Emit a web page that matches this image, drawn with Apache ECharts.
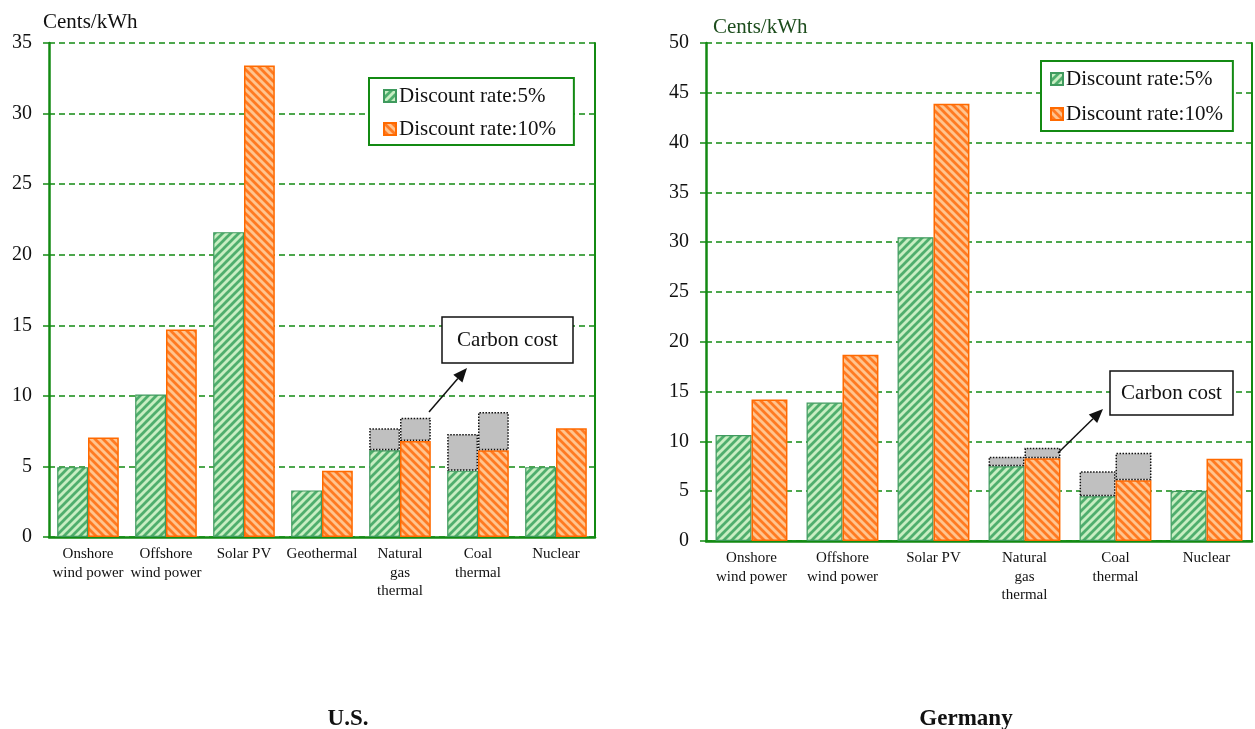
<!DOCTYPE html>
<html><head><meta charset="utf-8">
<script src="https://cdn.jsdelivr.net/npm/echarts@6/dist/echarts.min.js"></script>
<style>html,body{margin:0;padding:0;background:#fff}#c{width:1255px;height:729px}</style>
</head><body><div id="c"></div>
<script>
// Levelized generation cost, cents/kWh, at 5% and 10% discount rates
const usCategories = ['Onshore\nwind power', 'Offshore\nwind power', 'Solar PV', 'Geothermal', 'Natural\ngas\nthermal', 'Coal\nthermal', 'Nuclear'];
const usRate5 = [4.95, 10.1, 21.6, 3.3, 6.15, 4.7, 4.95];
const usRate5Carbon = [null, null, null, null, 1.55, 2.6, null];
const usRate10 = [7.05, 14.7, 33.4, 4.7, 6.8, 6.15, 7.7];
const usRate10Carbon = [null, null, null, null, 1.65, 2.7, null];

const deCategories = ['Onshore\nwind power', 'Offshore\nwind power', 'Solar PV', 'Natural\ngas\nthermal', 'Coal\nthermal', 'Nuclear'];
const deRate5 = [10.65, 13.9, 30.5, 7.5, 4.5, 5.05];
const deRate5Carbon = [null, null, null, 0.97, 2.5, null];
const deRate10 = [14.2, 18.7, 43.9, 8.3, 6.1, 8.25];
const deRate10Carbon = [null, null, null, 1.07, 2.75, null];

const usTicks = { min: 0, max: 35, interval: 5 };
const deTicks = { min: 0, max: 50, interval: 5 };

const NAME5 = 'Discount rate:5%';
const NAME10 = 'Discount rate:10%';
const SERIF = '"Liberation Serif", "DejaVu Serif", serif';
const GREEN_AXIS = '#138a13';

// diagonal hatch tiles used as bar fills
function hatch(bg, fg, rising) {
  const s = 8, c = document.createElement('canvas');
  c.width = c.height = s;
  const g = c.getContext('2d');
  g.fillStyle = bg; g.fillRect(0, 0, s, s);
  g.strokeStyle = fg; g.lineWidth = 2.8; g.lineCap = 'square';
  g.beginPath();
  for (let k = -1; k <= 1; k++) {
    if (rising) { g.moveTo(k * s, s); g.lineTo(k * s + s, 0); }
    else { g.moveTo(k * s, 0); g.lineTo(k * s + s, s); }
  }
  g.stroke();
  return c;
}
const greenFill = { image: hatch('#c8eec2', '#4fae6d', true), repeat: 'repeat' };
const orangeFill = { image: hatch('#ffc48e', '#ff7a22', false), repeat: 'repeat' };

const greenStyle = { color: greenFill, borderColor: '#3f9a5e', borderWidth: 1.2 };
const orangeStyle = { color: orangeFill, borderColor: '#ff6a00', borderWidth: 1.5 };
const carbonStyle = { color: '#c0c0c0', borderColor: '#111', borderWidth: 1.5, borderType: 'dotted' };

function xAxisFor(idx, cats) {
  return {
    type: 'category', gridIndex: idx, data: cats,
    axisLine: { lineStyle: { color: GREEN_AXIS, width: 2.5 } },
    axisTick: { show: false },
    axisLabel: { fontFamily: SERIF, fontSize: 15, color: '#111', lineHeight: 18.5, margin: 8, interval: 0 }
  };
}
function yAxesFor(idx, t, nameColor, nameGap, namePad) {
  return [{
    type: 'value', gridIndex: idx, min: t.min, max: t.max, interval: t.interval,
    name: 'Cents/kWh', nameLocation: 'end', nameGap: nameGap,
    nameTextStyle: { fontFamily: SERIF, fontSize: 21, color: nameColor, align: 'left', padding: namePad },
    axisLine: { show: true, lineStyle: { color: GREEN_AXIS, width: 2.5 } },
    axisTick: { show: true, length: 6, lineStyle: { color: GREEN_AXIS, width: 1.5 } },
    axisLabel: { fontFamily: SERIF, fontSize: 20, color: '#111', margin: 17 },
    splitLine: { show: true, lineStyle: { color: GREEN_AXIS, type: [6, 4], width: 1.5 } }
  }, {
    type: 'value', gridIndex: idx, position: 'right', min: t.min, max: t.max, interval: t.interval,
    axisLine: { show: true, lineStyle: { color: GREEN_AXIS, width: 2 } },
    axisTick: { show: false }, axisLabel: { show: false }, splitLine: { show: false }
  }];
}
function seriesFor(idx, yIdx, tag, r5, c5, r10, c10) {
  const base = { type: 'bar', xAxisIndex: idx, yAxisIndex: yIdx, barWidth: '39.5%', barGap: '0%' };
  return [
    Object.assign({}, base, { name: NAME5, stack: tag + '5', data: r5, itemStyle: greenStyle }),
    Object.assign({}, base, { name: 'Carbon cost', stack: tag + '5', data: c5, itemStyle: carbonStyle }),
    Object.assign({}, base, { name: NAME10, stack: tag + '10', data: r10, itemStyle: orangeStyle }),
    Object.assign({}, base, { name: 'Carbon cost', stack: tag + '10', data: c10, itemStyle: carbonStyle })
  ];
}
function legendAt(left, top, gap, pad) {
  return {
    data: [NAME5, NAME10], orient: 'vertical', left: left, top: top,
    icon: 'rect', itemWidth: 12, itemHeight: 12, itemGap: gap,
    borderColor: GREEN_AXIS, borderWidth: 2, padding: pad,
    backgroundColor: '#fff', selectedMode: false,
    textStyle: { fontFamily: SERIF, fontSize: 21, lineHeight: 22, color: '#111', padding: [0, 0, 0, -2] }
  };
}
// callout box with an arrow pointing at the carbon-cost blocks
function callout(box, tail, tip) {
  const dx = tip[0] - tail[0], dy = tip[1] - tail[1];
  const len = Math.hypot(dx, dy), ux = dx / len, uy = dy / len;
  const hl = 14, hw = 6;
  const bx = tip[0] - ux * hl, by = tip[1] - uy * hl;
  return [
    { type: 'rect', shape: { x: box[0], y: box[1], width: box[2], height: box[3] },
      style: { fill: '#fff', stroke: '#111', lineWidth: 1.5 }, z: 10 },
    { type: 'text', x: box[0] + box[2] / 2, y: box[1] + box[3] / 2,
      style: { text: 'Carbon cost', fontFamily: SERIF, fontSize: 21, fill: '#111', align: 'center', verticalAlign: 'middle' }, z: 11 },
    { type: 'line', shape: { x1: tail[0], y1: tail[1], x2: bx, y2: by }, style: { stroke: '#111', lineWidth: 1.5 }, z: 10 },
    { type: 'polygon', shape: { points: [tip, [bx - uy * hw, by + ux * hw], [bx + uy * hw, by - ux * hw]] },
      style: { fill: '#111' }, z: 10 }
  ];
}

const deTopEdge = {
  type: 'category', gridIndex: 1, data: deCategories, position: 'top',
  axisLine: { lineStyle: { color: GREEN_AXIS, width: 1.5 } },
  axisTick: { show: false }, axisLabel: { show: false }
};

const chart = echarts.init(document.getElementById('c'), null, { renderer: 'canvas' });
chart.setOption({
  backgroundColor: '#fff',
  animation: false,
  title: [
    { text: 'U.S.', left: 343, top: 703, textAlign: 'center', textStyle: { fontFamily: SERIF, fontSize: 23, fontWeight: 'bold', color: '#111' } },
    { text: 'Germany', left: 961, top: 703, textAlign: 'center', textStyle: { fontFamily: SERIF, fontSize: 23, fontWeight: 'bold', color: '#111' } }
  ],
  legend: [legendAt(369, 78, 11, [7, 18, 5, 14]), legendAt(1041, 61, 13, [7, 10, 6, 9])],
  grid: [
    { left: 49, top: 43, width: 546, height: 494 },
    { left: 706, top: 43, width: 546, height: 498 }
  ],
  xAxis: [xAxisFor(0, usCategories), xAxisFor(1, deCategories), deTopEdge],
  yAxis: yAxesFor(0, usTicks, '#111', 10, [0, 0, 0, -6]).concat(yAxesFor(1, deTicks, '#1d4d1d', 5, [0, 0, 0, 7])),
  series: seriesFor(0, 0, 'us', usRate5, usRate5Carbon, usRate10, usRate10Carbon)
    .concat(seriesFor(1, 2, 'de', deRate5, deRate5Carbon, deRate10, deRate10Carbon)),
  graphic: callout([442, 317, 131, 46], [429, 412], [467, 368])
    .concat(callout([1110, 371, 123, 44], [1058, 453], [1103, 409]))
});
</script>
</body></html>
